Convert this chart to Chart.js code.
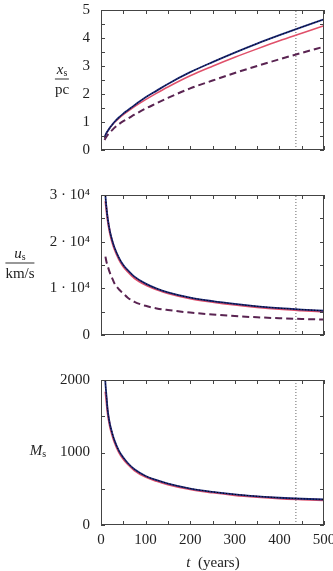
<!DOCTYPE html>
<html>
<head>
<meta charset="utf-8">
<script src="https://cdn.jsdelivr.net/npm/chart.js@4.4.1/dist/chart.umd.min.js"></script>
<style>
  html, body { margin: 0; padding: 0; background: #fff; }
  body { width: 333px; height: 571px; overflow: hidden; position: relative; font-family: 'Liberation Serif', serif; color: #222; }
  canvas { position: absolute; left: 0; }
  .frac { position: absolute; transform: translate(-50%, -50%); text-align: center; font-size: 15px; line-height: 15px; }
  .frac .n { border-bottom: 1px solid #333; padding: 0 1px 2px; }
  .frac .d { padding-top: 2px; }
  sub { font-size: 10px; vertical-align: -2px; line-height: 0; }
  .lab { position: absolute; transform: translate(-50%, -50%); font-size: 15px; white-space: nowrap; }
</style>
</head>
<body>
<canvas id="c1" width="345" height="180" style="top:-10px"></canvas>
<canvas id="c2" width="345" height="180" style="top:175px"></canvas>
<canvas id="c3" width="345" height="211" style="top:360px"></canvas>

<div class="frac" style="left:62px; top:79px"><div class="n"><i>x</i><sub>s</sub></div><div class="d">pc</div></div>
<div class="frac" style="left:20px; top:263px"><div class="n"><i>u</i><sub>s</sub></div><div class="d">km/s</div></div>
<div class="lab" style="left:38px; top:450px"><i>M</i><sub>s</sub></div>
<div class="lab" style="left:213px; top:562px"><i>t</i>&nbsp;&nbsp;(years)</div>

<script>
// time grid (years)
const T = [8, 10, 12, 15, 20, 25, 30, 40, 50, 60, 75, 100, 125, 150, 200, 250, 300, 350, 400, 450, 500];

// shock radius x_s / pc
const xsBlue = [0.45, 0.53, 0.60, 0.68, 0.80, 0.90, 1.00, 1.16, 1.30, 1.42, 1.60, 1.88, 2.12, 2.36, 2.78, 3.14, 3.48, 3.80, 4.10, 4.39, 4.67];
const xsRed  = [0.44, 0.52, 0.59, 0.67, 0.79, 0.89, 0.98, 1.13, 1.26, 1.38, 1.55, 1.80, 2.03, 2.25, 2.65, 2.99, 3.31, 3.61, 3.90, 4.17, 4.44];
const xsDash = [0.36, 0.42, 0.47, 0.54, 0.63, 0.71, 0.79, 0.92, 1.03, 1.12, 1.26, 1.48, 1.67, 1.86, 2.20, 2.48, 2.75, 3.00, 3.24, 3.47, 3.69];

// shock velocity u_s / km/s
const usBlue = [33000, 29800, 27500, 25000, 22200, 20300, 18800, 16600, 15000, 13900, 12500, 11000, 9950, 9150, 8000, 7250, 6650, 6150, 5750, 5450, 5200];
const usRed  = [null, 28700, 27000, 24700, 21900, 20000, 18500, 16300, 14700, 13600, 12200, 10750, 9750, 8950, 7820, 7080, 6480, 5990, 5590, 5290, 5020];
const usDash = [null, 16800, 15800, 14800, 13300, 12200, 11100, 9800, 8900, 8000, 7100, 6250, 5700, 5350, 4800, 4400, 4050, 3800, 3600, 3430, 3300];

// Mach number M_s
const msBlue = [2200, 1950, 1800, 1580, 1390, 1270, 1170, 1025, 930, 855, 768, 676, 618, 572, 503, 457, 422, 396, 376, 362, 352];
const msRed  = [null, 1840, 1730, 1545, 1365, 1245, 1150, 1008, 913, 840, 755, 664, 606, 561, 493, 448, 413, 388, 368, 354, 342];

const tMark = 437;
const xTicks = [0, 100, 200, 300, 400, 500];

const NAVY = '#1c2a7a';
const RED = '#e0506a';
const DASH = '#5a2452';
const FONT = { family: "'Liberation Serif', serif", size: 15 };

function pts(vals) {
    return T.map((t, i) => ({ x: t, y: vals[i] }));
}

// first dataset in the list ends up on top
function line(vals, color, width, dash) {
    return {
        data: pts(vals),
        borderColor: color,
        borderWidth: width,
        borderDash: dash || [],
        pointRadius: 0,
        cubicInterpolationMode: 'monotone',
        fill: false
    };
}

function markLine(ymax) {
    return {
        data: [{ x: tMark, y: 0 }, { x: tMark, y: ymax }],
        borderColor: '#666',
        borderWidth: 1,
        borderDash: [1, 2],
        pointRadius: 0
    };
}

// frame + inward ticks on all four sides
const frameTicks = {
    id: 'frameTicks',
    afterDatasetsDraw(chart) {
        const { ctx, chartArea: a, scales: { x, y } } = chart;
        ctx.save();
        ctx.strokeStyle = '#444';
        ctx.lineWidth = 1;
        ctx.beginPath();
        x.ticks.forEach(t => {
            const px = Math.round(x.getPixelForValue(t.value)) + 0.5;
            ctx.moveTo(px, a.bottom); ctx.lineTo(px, a.bottom - 4);
            ctx.moveTo(px, a.top); ctx.lineTo(px, a.top + 4);
        });
        y.ticks.forEach(t => {
            const py = Math.round(y.getPixelForValue(t.value)) + 0.5;
            ctx.moveTo(a.left, py); ctx.lineTo(a.left + 4, py);
            ctx.moveTo(a.right, py); ctx.lineTo(a.right - 4, py);
        });
        ctx.stroke();
        ctx.strokeRect(a.left + 0.5, a.top + 0.5, a.right - a.left - 1, a.bottom - a.top - 1);
        ctx.restore();
    }
};

function makePanel(id, datasets, yOpts, padding, showX) {
    return new Chart(document.getElementById(id), {
        type: 'line',
        data: { datasets: datasets },
        plugins: [frameTicks],
        options: {
            responsive: false,
            animation: false,
            devicePixelRatio: 1,
            layout: { padding: padding },
            plugins: { legend: { display: false }, tooltip: { enabled: false } },
            scales: {
                x: {
                    type: 'linear',
                    min: 0, max: 500,
                    grid: { display: false, drawTicks: false },
                    border: { display: false },
                    ticks: {
                        display: showX,
                        stepSize: 50,
                        autoSkip: false,
                        maxRotation: 0,
                        padding: 6,
                        color: '#222',
                        font: FONT,
                        callback: v => xTicks.includes(v) ? String(v) : ''
                    },
                    afterFit: s => { s.height = showX ? 46 : 0; }
                },
                y: {
                    min: yOpts.min, max: yOpts.max,
                    grid: { display: false, drawTicks: false },
                    border: { display: false },
                    ticks: {
                        stepSize: yOpts.step,
                        autoSkip: false,
                        padding: 11,
                        color: '#222',
                        font: FONT,
                        callback: yOpts.label
                    },
                    afterFit: s => { s.width = 101; }
                }
            }
        }
    });
}

makePanel('c1', [
    line(xsBlue, '#000', 1, [1, 2]),
    line(xsBlue, NAVY, 1.8),
    line(xsRed, RED, 1.5),
    line(xsDash, DASH, 2, [7, 4]),
    markLine(5)
], { min: 0, max: 5, step: 0.5, label: v => Number.isInteger(v) ? String(v) : '' },
   { top: 15, bottom: 17, left: 0, right: 21 }, false);

makePanel('c2', [
    line(usBlue, '#000', 1, [1, 2]),
    line(usBlue, NAVY, 1.8),
    line(usRed, RED, 2.2),
    line(usDash, DASH, 2, [7, 4]),
    markLine(30000)
], { min: 0, max: 30000, step: 5000,
     label: v => v === 0 ? '0' : (v % 10000 === 0 ? (v / 10000) + ' · 10⁴' : '') },
   { top: 15, bottom: 16, left: 0, right: 21 }, false);

makePanel('c3', [
    line(msBlue, '#000', 1, [1, 2]),
    line(msBlue, NAVY, 1.8),
    line(msRed, RED, 2.2),
    markLine(2000)
], { min: 0, max: 2000, step: 500, label: v => v % 1000 === 0 ? String(v) : '' },
   { top: 15, bottom: 0, left: 0, right: 21 }, true);
</script>
</body>
</html>
